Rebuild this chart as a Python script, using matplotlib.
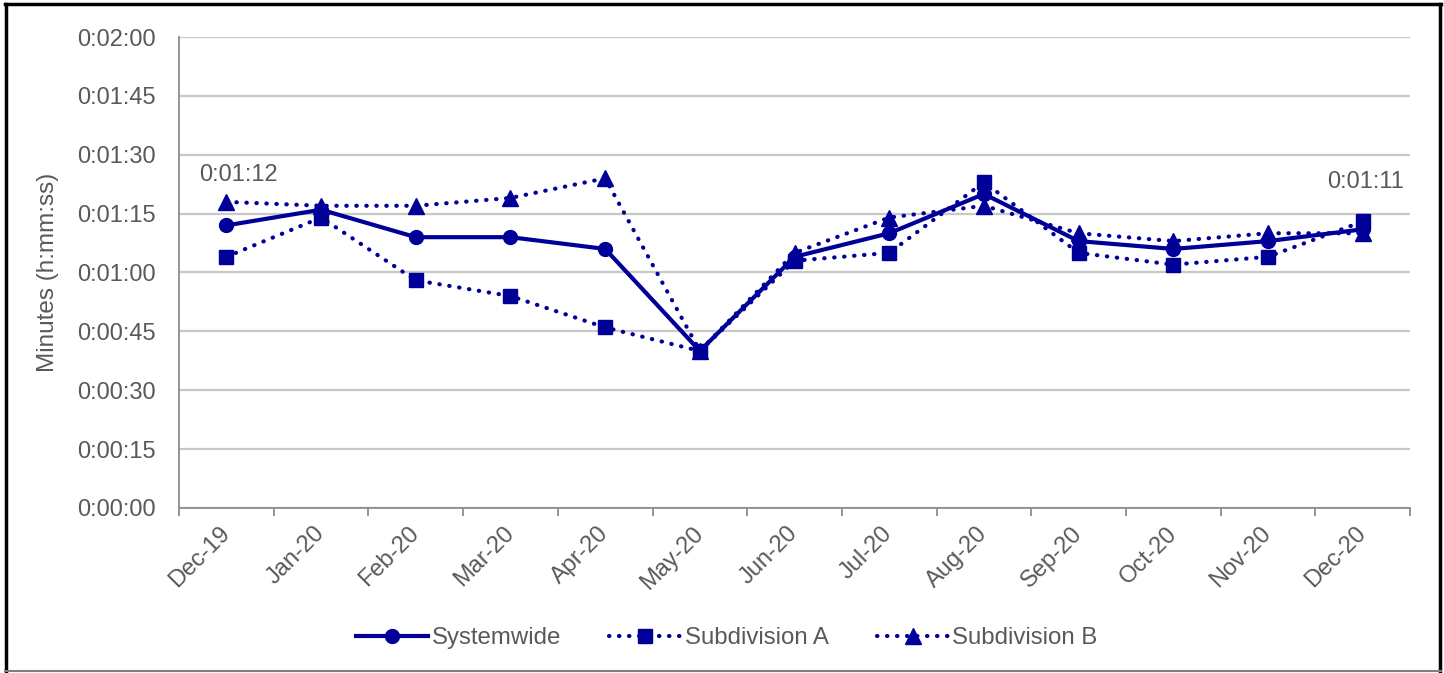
import matplotlib
matplotlib.use("agg")
import matplotlib.pyplot as plt
from matplotlib.lines import Line2D
from matplotlib.ticker import FuncFormatter, MultipleLocator

plt.rcParams["font.family"] = ["Liberation Sans", "DejaVu Sans"]

# monthly values, in seconds
months = ["Dec-19", "Jan-20", "Feb-20", "Mar-20", "Apr-20", "May-20", "Jun-20",
          "Jul-20", "Aug-20", "Sep-20", "Oct-20", "Nov-20", "Dec-20"]
systemwide = [72, 76, 69, 69, 66, 40, 64, 70, 80, 68, 66, 68, 71]
subdivision_a = [64, 74, 58, 54, 46, 40, 63, 65, 83, 65, 62, 64, 73]
subdivision_b = [78, 77, 77, 79, 84, 40, 65, 74, 77, 70, 68, 70, 70]

BLUE = "#000099"
GREY_TEXT = "#595959"


def hms(value, _pos=None):
    value = int(round(value))
    return f"{value // 3600}:{(value % 3600) // 60:02d}:{value % 60:02d}"


fig = plt.figure(figsize=(14.44, 6.73), dpi=100)
ax = fig.add_axes([0.124, 0.2452, 0.8525, 0.6998])

x = list(range(len(months)))
dotted = (0, (0.1, 2.3))

ax.plot(x, systemwide, color=BLUE, lw=3, marker="o", ms=10, label="Systemwide",
        zorder=4)
ax.plot(x, subdivision_a, color=BLUE, lw=3, ls=dotted, dash_capstyle="round",
        marker="s", ms=10, label="Subdivision A", zorder=3)
ax.plot(x, subdivision_b, color=BLUE, lw=3, ls=dotted, dash_capstyle="round",
        marker="^", ms=12, label="Subdivision B", zorder=3)

# data labels at the ends
ax.annotate(hms(systemwide[0]), (x[0], systemwide[0]), xytext=(8.5, 36.5),
            textcoords="offset points", ha="center", va="center",
            fontsize=17, color=GREY_TEXT)
ax.annotate(hms(systemwide[-1]), (x[-1], systemwide[-1]), xytext=(2, 34),
            textcoords="offset points", ha="center", va="center",
            fontsize=17, color=GREY_TEXT)

ax.set_ylim(0, 120)
ax.yaxis.set_major_locator(MultipleLocator(15))
ax.yaxis.set_major_formatter(FuncFormatter(hms))
ax.set_xlim(-0.5, len(months) - 0.5)
ax.set_xticks(x)
ax.set_xticklabels(months, rotation=45, ha="right", va="center",
                   rotation_mode="anchor")
ax.set_xticks([i - 0.5 for i in range(len(months) + 1)], minor=True)
ax.tick_params(axis="x", which="major", length=0, pad=16, labelsize=17,
               labelcolor=GREY_TEXT)
ax.tick_params(axis="x", which="minor", length=6, width=1.3, color="#8c8c8c")
ax.tick_params(axis="y", length=0, pad=17, labelsize=17, labelcolor=GREY_TEXT)

ax.grid(True, axis="y", color="#c8c8c8", lw=1.6)
ax.set_axisbelow(True)
for side in ["top", "right"]:
    ax.spines[side].set_visible(False)
for side in ["left", "bottom"]:
    ax.spines[side].set_color("#8c8c8c")
    ax.spines[side].set_linewidth(1.3)

ax.set_ylabel("Minutes (h:mm:ss)", fontsize=17.5, color=GREY_TEXT, labelpad=13)

ax.legend(loc="center", bbox_to_anchor=(0.445, -0.276), ncol=3, frameon=False,
          fontsize=17.3, labelcolor=GREY_TEXT, handlelength=3.0,
          handletextpad=0.15, columnspacing=2.0)

# outer border of the chart
fig.add_artist(Line2D([0.0035, 0.998], [0.9945, 0.9945], color="black", lw=2.5))
fig.add_artist(Line2D([0.0042, 0.0042], [0.003, 0.9945], color="black", lw=2.5))
fig.add_artist(Line2D([0.9975, 0.9975], [0.003, 0.9945], color="black", lw=2.5))
fig.add_artist(Line2D([0.0035, 0.998], [0.0025, 0.0025], color="#808080", lw=1.5))

fig.savefig("out.png", dpi=100)
plt.close(fig)
